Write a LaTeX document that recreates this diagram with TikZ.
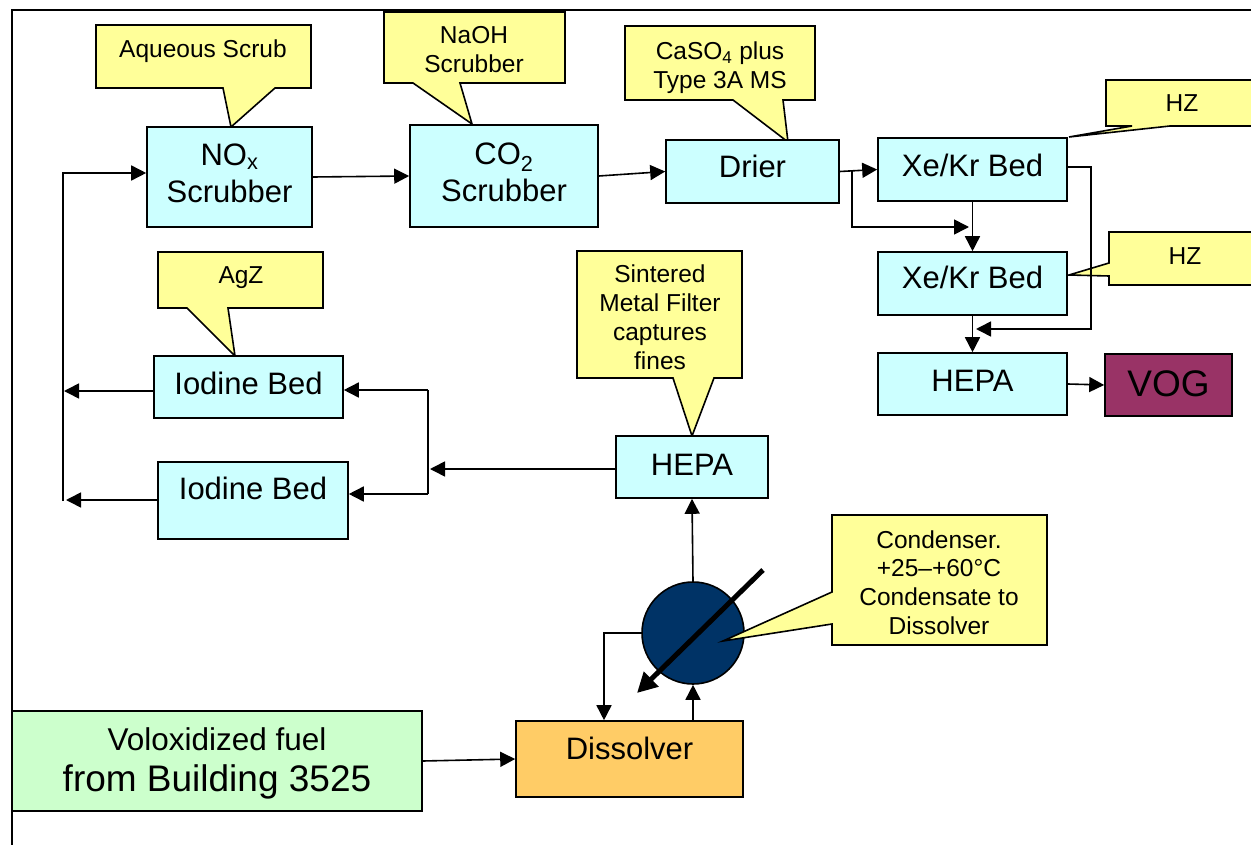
\documentclass[tikz,border=0pt]{standalone}
\usepackage{fontspec}
\setmainfont{Liberation Sans}
\usetikzlibrary{arrows.meta}
\definecolor{boxcyan}{HTML}{CCFFFF}
\definecolor{callyel}{HTML}{FFFF99}
\definecolor{fuelgreen}{HTML}{CCFFCC}
\definecolor{dissorange}{HTML}{FFCC66}
\definecolor{vogred}{HTML}{993366}
\definecolor{condblue}{HTML}{003366}
\begin{document}
\begin{tikzpicture}[x=1pt,y=-1pt,
  unit/.style={rectangle, draw=black, line width=1.6pt, fill=boxcyan, inner sep=0pt, font=\fontsize{31}{37}\selectfont},
  lift/.style={text height=22pt, text depth=#1},
  callout/.style={draw=black, line width=1.6pt, fill=callyel, line join=miter},
  calltext/.style={font=\fontsize{24.5}{28.8}\selectfont, align=center, inner sep=0pt},
  wire/.style={line width=1.6pt},
  conn/.style={line width=1.6pt, -{Triangle[length=15pt,width=15pt]}}
]
\useasboundingbox (0,0) rectangle (1251,845);
\clip (0,0) rectangle (1251,845);
\fill[white] (0,0) rectangle (1251,845);

% frame
\draw[line width=1.6pt] (12,845) -- (12,10) -- (1251,10);

% condenser
\node[circle, draw=black, line width=1.6pt, fill=condblue, minimum size=102pt, inner sep=0pt] (cond) at (693,633) {};

% callouts
\draw[callout] (96,25) -- (311,25) -- (311,88) -- (275,88) -- (231,127) -- (223,88) -- (96,88) -- cycle;
\node[calltext] (tAq) at (203,51.5) {Aqueous Scrub};
\draw[callout] (384,12) -- (565,12) -- (565,83) -- (460,83) -- (472,124) -- (413,83) -- (384,83) -- cycle;
\node[calltext] (tNa) at (474,49.5) {NaOH\\Scrubber};
\draw[callout] (625,26) -- (815,26) -- (815,100) -- (783,100) -- (788,142) -- (733,100) -- (625,100) -- cycle;
\node[calltext] (tCa) at (720,67.5) {CaSO\textsubscript{4} plus\\Type 3A MS};
\draw[callout] (1106,80) -- (1262,80) -- (1262,126) -- (1170,126) -- (1069,137) -- (1132,126) -- (1106,126) -- cycle;
\node[calltext] (tHz1) at (1182,103) {HZ};
\draw[callout] (1109,232) -- (1262,232) -- (1262,285) -- (1109,285) -- (1109,276) -- (1069,275) -- (1109,263) -- cycle;
\node[calltext] (tHz2) at (1185,256) {HZ};
\draw[callout] (158,252) -- (323,252) -- (323,308) -- (228,308) -- (235,356) -- (187,308) -- (158,308) -- cycle;
\node[calltext] (tAg) at (241,277.5) {AgZ};
\draw[callout] (577,251) -- (742,251) -- (742,378) -- (714,378) -- (692,436) -- (673,378) -- (577,378) -- cycle;
\node[calltext] (tSi) at (660,317.2) {Sintered\\Metal Filter\\captures\\fines};
\draw[callout] (832,515) -- (1047,515) -- (1047,645) -- (832,645) -- (832,624) -- (723,641) -- (832,592) -- cycle;
\node[calltext] (tCo) at (939,582.5) {Condenser.\\+25–+60°C\\Condensate to\\Dissolver};

% process boxes
\node[unit, minimum width=165pt, minimum height=100pt,
  label={[font=\fontsize{31}{37}\selectfont, align=center, yshift=3.5pt]center:{NO\textsubscript{x}\\Scrubber}}] (nox) at (229.5,177) {};
\node[unit, minimum width=188pt, minimum height=102pt,
  label={[font=\fontsize{31}{37}\selectfont, align=center, yshift=3.5pt]center:{CO\textsubscript{2}\\Scrubber}}] (co2) at (504,176) {};
\node[unit, lift=9pt, minimum width=173pt, minimum height=63pt] (drier) at (752.5,171.5) {Drier};
\node[unit, lift=7pt, minimum width=189pt, minimum height=63pt] (xek1) at (972.5,169.5) {Xe/Kr Bed};
\node[unit, lift=11pt, minimum width=189pt, minimum height=63pt] (xek2) at (972.5,283.5) {Xe/Kr Bed};
\node[unit, lift=8pt, minimum width=189pt, minimum height=62pt] (hepa2) at (972.5,384) {HEPA};
\node[unit, lift=4pt, fill=vogred, minimum width=127pt, minimum height=62pt, font=\fontsize{37}{42}\selectfont, text height=26pt] (vog) at (1168.5,385) {VOG};
\node[unit, lift=7pt, minimum width=189pt, minimum height=62pt] (iod1) at (248.5,387) {Iodine Bed};
\node[unit, lift=25pt, minimum width=190pt, minimum height=77pt] (iod2) at (253,500.5) {Iodine Bed};
\node[unit, lift=6pt, minimum width=152pt, minimum height=62pt] (hepa1) at (692,467) {HEPA};
\node[unit, lift=22pt, fill=dissorange, minimum width=227pt, minimum height=76pt] (diss) at (629.5,759) {Dissolver};
\node[unit, fill=fuelgreen, minimum width=410pt, minimum height=100pt,
  label={[font=\fontsize{37}{41}\selectfont, align=center, yshift=-2.5pt]center:{{\fontsize{31.5}{41}\selectfont Voloxidized fuel}\\from Building 3525}}] (fuel) at (217,761) {};

% junction coordinates
\coordinate (lt) at (63,173);
\coordinate (lb) at (63,501);
\coordinate (b1) at (64,391);
\coordinate (b2) at (66,500);
\coordinate (rt) at (428,390);
\coordinate (rb) at (428,494);
\coordinate (rm) at (430,469);
\coordinate (dj) at (852,171.5);
\coordinate (xj) at (969,227);
\coordinate (bp1) at (1091,167);
\coordinate (bp2) at (1091,329);
\coordinate (bp3) at (976,329);
\coordinate (cl) at (604,633);
\coordinate (thkA) at (763,570);
\coordinate (thkB) at (637,693);

% connectors
\draw[conn] (lb) -- (lt) -- (lt -| nox.west);
\draw[conn] (nox.east) -- (co2.west);
\draw[conn] (co2.east) -- (drier.west);
\draw[conn] (drier.east) -- (xek1.west);
\draw[conn] (dj) |- (xj);
\draw[conn] (xek1.south) -- (xek2.north);
\draw[conn] (xek1.east |- bp1) -- (bp1) -- (bp2) -- (bp3);
\draw[conn] (xek2.south) -- (hepa2.north);
\draw[conn] (hepa2.east) -- (vog.west);
\draw[conn] ([yshift=-4pt]iod1.west) -- (b1);
\draw[conn] (iod2.west |- b2) -- (b2);
\draw[wire] (rt) -- (rb);
\draw[conn] (rt) -- (rt -| iod1.east);
\draw[conn] (rb) -- (rb -| iod2.east);
\draw[conn] (hepa1.west |- rm) -- (rm);
\draw[conn] (cond.north) -- (hepa1.south);
\draw[conn] (cond.west) -- (cl) -- (cl |- diss.north);
\draw[conn] (diss.north -| cond.south) -- (cond.south);
\draw[conn] (fuel.east) -- (diss.west);
\draw[line width=5pt, -{Triangle[length=20pt,width=20pt]}] (thkA) -- (thkB);
\end{tikzpicture}
\end{document}
